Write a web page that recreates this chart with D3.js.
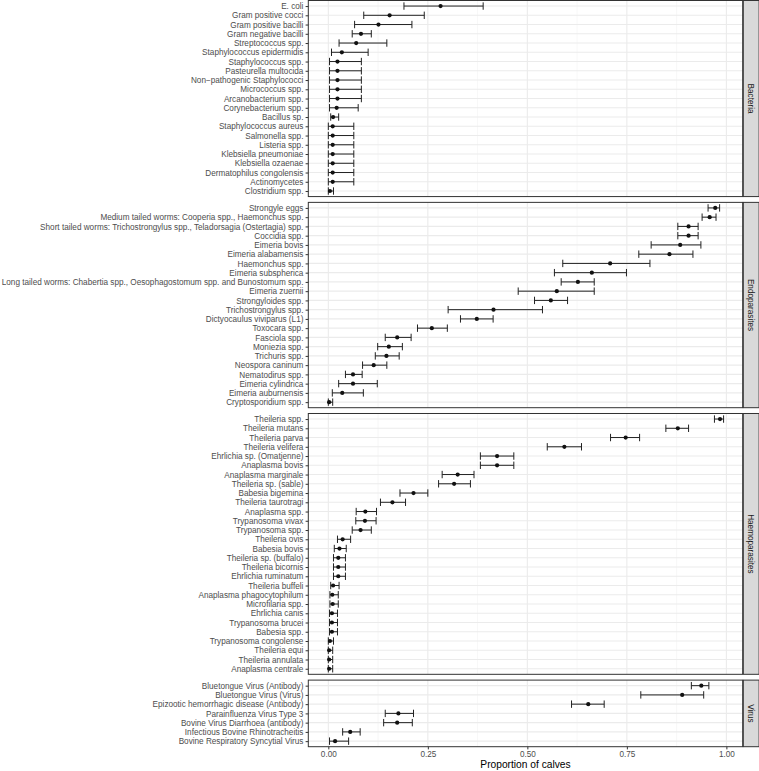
<!DOCTYPE html>
<html>
<head>
<meta charset="utf-8">
<script src="https://cdn.jsdelivr.net/npm/d3@7"></script>
<style>
  html, body { margin: 0; padding: 0; background: #fff; }
  svg { display: block; }
  text { font-family: "Liberation Sans", Arial, Helvetica, sans-serif; }
</style>
</head>
<body>
<svg id="chart" width="759" height="771"></svg>
<script>
// ---- DATA ----
const facets = ["Bacteria", "Endoparasites", "Haemoparasites", "Virus"];
const facetCounts = [21, 22, 28, 7];

const labels = [
  // Bacteria
  "E. coli", "Gram positive cocci", "Gram positive bacilli", "Gram negative bacilli",
  "Streptococcus spp.", "Staphylococcus epidermidis", "Staphylococcus spp.", "Pasteurella multocida",
  "Non\u2212pathogenic Staphylococci", "Micrococcus spp.", "Arcanobacterium spp.", "Corynebacterium spp.",
  "Bacillus sp.", "Staphylococcus aureus", "Salmonella spp.", "Listeria spp.",
  "Klebsiella pneumoniae", "Klebsiella ozaenae", "Dermatophilus congolensis", "Actinomycetes",
  "Clostridium spp.",
  // Endoparasites
  "Strongyle eggs", "Medium tailed worms: Cooperia spp., Haemonchus spp.",
  "Short tailed worms: Trichostrongylus spp., Teladorsagia (Ostertagia) spp.", "Coccidia spp.",
  "Eimeria bovis", "Eimeria alabamensis", "Haemonchus spp.", "Eimeria subspherica",
  "Long tailed worms: Chabertia spp., Oesophagostomum spp. and Bunostomum spp.", "Eimeria zuernii",
  "Strongyloides spp.", "Trichostrongylus spp.", "Dictyocaulus viviparus (L1)", "Toxocara spp.",
  "Fasciola spp.", "Moniezia spp.", "Trichuris spp.", "Neospora caninum", "Nematodirus spp.",
  "Eimeria cylindrica", "Eimeria auburnensis", "Cryptosporidium spp.",
  // Haemoparasites
  "Theileria spp.", "Theileria mutans", "Theileria parva", "Theileria velifera",
  "Ehrlichia sp. (Omatjenne)", "Anaplasma bovis", "Anaplasma marginale", "Theileria sp. (sable)",
  "Babesia bigemina", "Theileria taurotragi", "Anaplasma spp.", "Trypanosoma vivax",
  "Trypanosoma spp.", "Theileria ovis", "Babesia bovis", "Theileria sp. (buffalo)",
  "Theileria bicornis", "Ehrlichia ruminatum", "Theileria buffeli", "Anaplasma phagocytophilum",
  "Microfilaria spp.", "Ehrlichia canis", "Trypanosoma brucei", "Babesia spp.",
  "Trypanosoma congolense", "Theileria equi", "Theileria annulata", "Anaplasma centrale",
  // Virus
  "Bluetongue Virus (Antibody)", "Bluetongue Virus (Virus)", "Epizootic hemorrhagic disease (Antibody)",
  "Parainfluenza Virus Type 3", "Bovine Virus Diarrhoea (antibody)", "Infectious Bovine Rhinotracheitis",
  "Bovine Respiratory Syncytial Virus"
];

const estimate = [
  // Bacteria
  0.282, 0.154, 0.126, 0.082, 0.070, 0.034, 0.023, 0.023, 0.023, 0.023, 0.023, 0.021,
  0.012, 0.011, 0.011, 0.011, 0.011, 0.011, 0.011, 0.011, 0.004,
  // Endoparasites
  0.972, 0.958, 0.905, 0.905, 0.884, 0.857, 0.708, 0.662, 0.627, 0.574, 0.559, 0.415,
  0.373, 0.260, 0.173, 0.152, 0.146, 0.114, 0.062, 0.062, 0.035, 0.002,
  // Haemoparasites
  0.984, 0.878, 0.747, 0.593, 0.424, 0.424, 0.325, 0.316, 0.214, 0.161, 0.093, 0.092,
  0.081, 0.036, 0.028, 0.025, 0.025, 0.025, 0.012, 0.010, 0.011, 0.009, 0.009, 0.009,
  0.004, 0.002, 0.002, 0.002,
  // Virus
  0.937, 0.889, 0.653, 0.176, 0.173, 0.055, 0.017
];

const lower = [
  // Bacteria
  0.190, 0.089, 0.066, 0.060, 0.027, 0.008, 0.003, 0.003, 0.003, 0.003, 0.003, 0.003,
  0.006, 0.000, 0.000, 0.000, 0.000, 0.000, 0.000, 0.000, 0.000,
  // Endoparasites
  0.954, 0.939, 0.878, 0.878, 0.811, 0.780, 0.589, 0.568, 0.585, 0.477, 0.518, 0.301,
  0.332, 0.224, 0.143, 0.124, 0.118, 0.086, 0.043, 0.026, 0.010, 0.000,
  // Haemoparasites
  0.970, 0.848, 0.709, 0.550, 0.382, 0.382, 0.286, 0.277, 0.180, 0.131, 0.070, 0.069,
  0.060, 0.023, 0.015, 0.013, 0.013, 0.013, 0.006, 0.004, 0.004, 0.003, 0.003, 0.003,
  0.000, 0.000, 0.000, 0.000,
  // Virus
  0.912, 0.785, 0.611, 0.143, 0.139, 0.036, 0.003
];

const upper = [
  // Bacteria
  0.389, 0.241, 0.210, 0.108, 0.147, 0.100, 0.083, 0.083, 0.083, 0.083, 0.083, 0.075,
  0.026, 0.064, 0.064, 0.064, 0.064, 0.064, 0.064, 0.064, 0.013,
  // Endoparasites
  0.983, 0.974, 0.929, 0.929, 0.936, 0.916, 0.808, 0.749, 0.668, 0.668, 0.601, 0.538,
  0.414, 0.299, 0.208, 0.186, 0.178, 0.147, 0.085, 0.123, 0.088, 0.011,
  // Haemoparasites
  0.993, 0.905, 0.782, 0.636, 0.466, 0.466, 0.366, 0.357, 0.250, 0.194, 0.121, 0.120,
  0.108, 0.056, 0.045, 0.043, 0.043, 0.043, 0.027, 0.025, 0.025, 0.023, 0.023, 0.023,
  0.013, 0.011, 0.011, 0.011,
  // Virus
  0.956, 0.943, 0.693, 0.214, 0.211, 0.080, 0.051
];

const xTicks = [0, 0.25, 0.5, 0.75, 1];
const xMinor = [0.125, 0.375, 0.625, 0.875];
const xTitle = "Proportion of calves";

// ---- LAYOUT ----
const panelLeft = 308.3, panelRight = 742.7;
const stripW = 15.8;
const topY = 0.5, bottomY = 746.7, gap = 5.8;

const svg = d3.select("#chart");

// fit the label font so the longest label spans the left margin (~303px), as in the reference
const probe = svg.append("text").style("font-size", "10px")
  .style("font-family", '"Liberation Sans", Arial, sans-serif')
  .text(labels.reduce((a, b) => (b.length > a.length ? b : a)));
const probeW = probe.node().getComputedTextLength();
probe.remove();
const fontSize = Math.min(8.3, 10 * 302 / probeW);

const x = d3.scaleLinear().domain([-0.0503, 1.041]).range([panelLeft, panelRight]);

const totalUnits = d3.sum(facetCounts, n => n - 1 + 1.2);
const unit = (bottomY - topY - gap * (facets.length - 1)) / totalUnits;

let start = 0;
let yTop = topY;
facets.forEach((facet, fi) => {
  const n = facetCounts[fi];
  const idx = d3.range(start, start + n);
  start += n;
  const ph = (n - 1 + 1.2) * unit;
  const y0 = yTop, y1 = yTop + ph;
  yTop = y1 + gap;

  const y = d3.scalePoint().domain(idx.map(i => labels[i])).range([y0, y1]).padding(0.6);

  const g = svg.append("g");
  g.append("rect").attr("x", panelLeft).attr("y", y0).attr("width", panelRight - panelLeft)
    .attr("height", ph).attr("fill", "#fff");

  g.selectAll(".minor").data(xMinor).join("line")
    .attr("x1", d => x(d)).attr("x2", d => x(d)).attr("y1", y0).attr("y2", y1)
    .attr("stroke", "#F2F2F2").attr("stroke-width", 0.6);
  g.selectAll(".majorx").data(xTicks).join("line")
    .attr("x1", d => x(d)).attr("x2", d => x(d)).attr("y1", y0).attr("y2", y1)
    .attr("stroke", "#EBEBEB").attr("stroke-width", 1.1);
  g.selectAll(".majory").data(idx).join("line")
    .attr("x1", panelLeft).attr("x2", panelRight)
    .attr("y1", i => y(labels[i])).attr("y2", i => y(labels[i]))
    .attr("stroke", "#EBEBEB").attr("stroke-width", 1.1);

  const cap = 0.8 * unit / 2;
  const eb = g.selectAll(".eb").data(idx).join("g");
  eb.append("line")
    .attr("x1", i => x(lower[i])).attr("x2", i => x(upper[i]))
    .attr("y1", i => y(labels[i])).attr("y2", i => y(labels[i]))
    .attr("stroke", "#222").attr("stroke-width", 1);
  eb.append("line")
    .attr("x1", i => x(lower[i])).attr("x2", i => x(lower[i]))
    .attr("y1", i => y(labels[i]) - cap).attr("y2", i => y(labels[i]) + cap)
    .attr("stroke", "#222").attr("stroke-width", 1);
  eb.append("line")
    .attr("x1", i => x(upper[i])).attr("x2", i => x(upper[i]))
    .attr("y1", i => y(labels[i]) - cap).attr("y2", i => y(labels[i]) + cap)
    .attr("stroke", "#222").attr("stroke-width", 1);
  g.selectAll(".pt").data(idx).join("circle")
    .attr("cx", i => x(estimate[i])).attr("cy", i => y(labels[i])).attr("r", 2.1)
    .attr("fill", "#111");

  g.append("rect").attr("x", panelLeft).attr("y", y0).attr("width", panelRight - panelLeft)
    .attr("height", ph).attr("fill", "none").attr("stroke", "#333").attr("stroke-width", 1);

  const ya = g.append("g").attr("transform", `translate(${panelLeft},0)`)
    .call(d3.axisLeft(y).tickSize(2.7).tickPadding(2.2));
  ya.select(".domain").remove();
  ya.selectAll(".tick line").attr("stroke", "#333");
  ya.selectAll(".tick text").attr("fill", "#4D4D4D").style("font-size", fontSize + "px")
    .style("font-family", '"Liberation Sans", Arial, sans-serif');

  g.append("rect").attr("x", panelRight + 0.6).attr("y", y0).attr("width", stripW)
    .attr("height", ph).attr("fill", "#D9D9D9").attr("stroke", "#333").attr("stroke-width", 1);
  g.append("text")
    .attr("transform", `translate(${panelRight + 0.6 + stripW / 2},${(y0 + y1) / 2}) rotate(90)`)
    .attr("text-anchor", "middle").attr("dy", "0.35em")
    .attr("fill", "#1A1A1A").style("font-size", fontSize + "px")
    .text(facet);

  if (fi === facets.length - 1) {
    const xa = svg.append("g").attr("transform", `translate(0,${y1})`)
      .call(d3.axisBottom(x).tickValues(xTicks).tickFormat(d3.format(".2f")).tickSize(2.7).tickPadding(2.2));
    xa.select(".domain").remove();
    xa.selectAll(".tick line").attr("stroke", "#333");
    xa.selectAll(".tick text").attr("fill", "#4D4D4D").style("font-size", fontSize + "px")
      .style("font-family", '"Liberation Sans", Arial, sans-serif');
    svg.append("text").attr("x", (panelLeft + panelRight) / 2).attr("y", 768)
      .attr("text-anchor", "middle").attr("fill", "#000").style("font-size", (fontSize * 1.25) + "px")
      .text(xTitle);
  }
});
</script>
</body>
</html>
